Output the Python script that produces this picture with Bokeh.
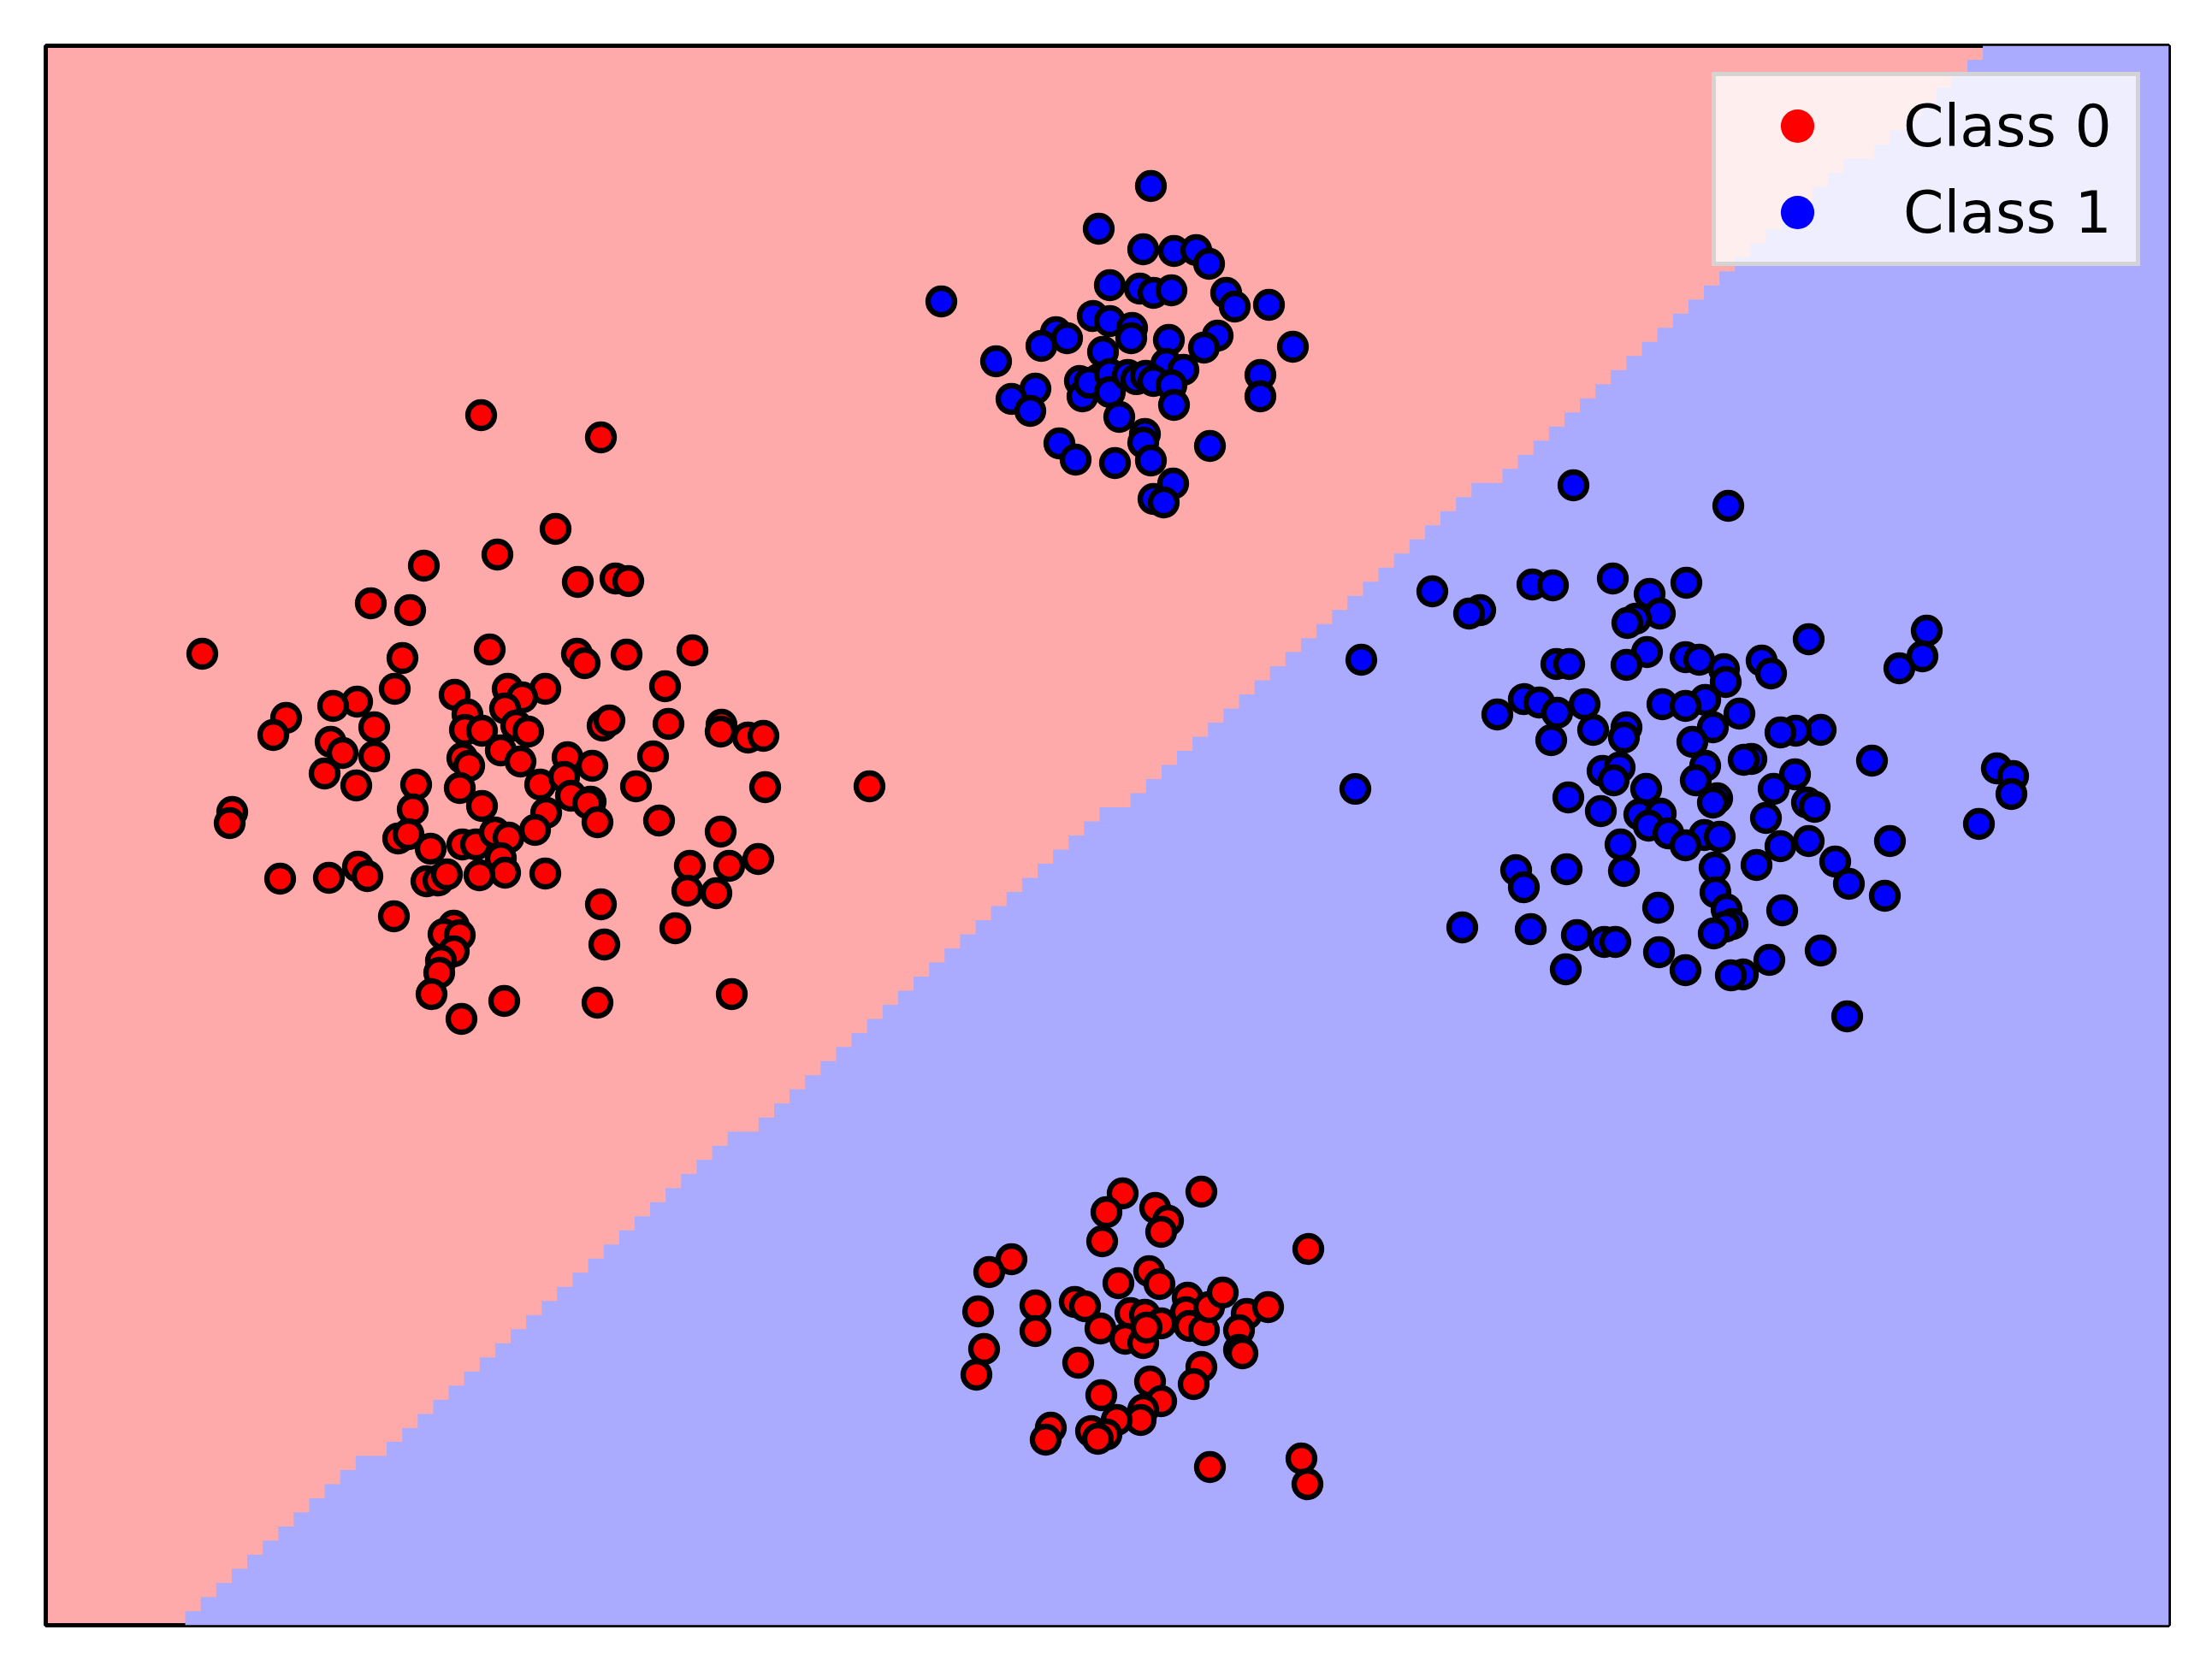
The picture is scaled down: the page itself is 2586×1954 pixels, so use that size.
import numpy as np
from bokeh.plotting import figure
from bokeh.models import Range1d, Legend, LegendItem
from bokeh.embed import file_html
from bokeh.resources import INLINE

# ---- data (in the picture's own coordinate units) ----
class0_x = [562, 702, 649, 581, 495, 719, 734, 675, 433, 479, 572, 809, 236, 674, 732, 470, 683, 461, 593, 637,
            777, 531, 610, 417, 389, 590, 334, 546,
            319, 437, 386, 400, 437, 379, 416, 271, 268, 486, 482, 465, 477, 503, 327, 384, 418, 429, 498, 512, 522,
            460, 530, 518, 537, 530, 515, 513, 504, 539, 589,
            543, 563, 603, 617, 585, 608, 540, 548, 537, 563, 631, 638, 625, 540, 556, 578, 594, 585, 590, 560, 637,
            704, 712, 781, 843, 842, 874, 892, 663, 692, 763, 659, 667, 690, 687, 743, 894, 1016, 698, 770, 842,
            806, 852, 886, 803, 837, 702, 789, 706, 698, 855,
            1312, 1404, 1293, 1350, 1365, 1357, 1288, 1529, 1182, 1156, 1307, 1343, 1355, 1143, 1210, 1210, 1256,
            1268, 1286, 1321, 1338, 1357, 1315, 1336, 1340, 1388, 1386, 1390, 1407, 1413, 1429, 1457, 1482, 1448,
            1448, 1452, 1150, 1141, 1260, 1404, 1395, 1344, 1357, 1336, 1333, 1287, 1305, 1275, 1293, 1283, 1228,
            1222, 1414, 1521, 1528]
class0_y = [485, 511, 618, 648, 661, 676, 679, 680, 705, 713, 759, 760, 764, 764, 765, 769, 775, 805, 805, 805,
            802, 812, 815, 820, 825, 828, 839, 835,
            859, 850, 867, 880, 884, 904, 918, 949, 962, 917, 946, 980, 975, 992, 1027, 1026, 1013, 1024, 1030, 1029,
            1022, 1071, 1082, 1092, 1093, 1112, 1123, 1137, 1162, 1191, 1170,
            853, 854, 848, 855, 877, 890, 886, 895, 921, 942, 917, 950, 970, 987, 987, 973, 979, 1003, 1020, 1023,
            1021,
            848, 842, 846, 847, 855, 862, 860, 885, 895, 884, 908, 930, 937, 939, 919, 920, 919, 961, 959, 972,
            1012, 1012, 1004, 1041, 1044, 1057, 1085, 1104, 1172, 1162,
            1395, 1393, 1417, 1412, 1427, 1440, 1451, 1460, 1472, 1487, 1500, 1486, 1501, 1533, 1526, 1556, 1522,
            1527, 1553, 1535, 1537, 1547, 1565, 1570, 1552, 1517, 1534, 1550, 1555, 1528, 1511, 1536, 1528, 1555,
            1578, 1582, 1577, 1607, 1593, 1598, 1618, 1615, 1638, 1648, 1660, 1631, 1660, 1673, 1677, 1682, 1669,
            1683, 1715, 1705, 1735]

class1_x = [1345, 1284, 1336, 1372, 1398, 1413, 1297, 1332, 1348, 1369, 1433, 1443, 1483, 1100, 1277, 1297, 1323,
            1322, 1423, 1407, 1366, 1511, 1234, 1247, 1217, 1289, 1164, 1363, 1383, 1473, 1473, 1210, 1182, 1204,
            1262, 1265, 1284, 1273, 1297, 1297, 1318, 1328, 1339, 1348, 1369, 1372, 1308, 1238, 1257, 1303, 1338,
            1336, 1345, 1414, 1371, 1348, 1360,
            1839, 2020, 1885, 1971, 1674, 1928, 1791, 1815, 1730, 1717, 1940, 1912, 1902, 2252, 2114, 1925, 2247,
            1970, 1591, 1986, 2059, 1819, 1834, 1901, 2220, 2015, 2070, 2017, 1781, 1993, 1799, 1852, 1943, 1970,
            1820, 2033, 1750, 1901, 2002, 1862, 2128, 2099, 2081, 1898, 1813, 1978,
            2047, 2038, 2188, 1993, 2334, 1873, 1893, 2098, 2353, 1886, 1982, 1584, 1924, 2073, 2351, 1833, 2007,
            2002, 2112, 2121, 1871, 1916, 1941, 2064, 2313, 1927, 1950, 1992, 2010, 2209, 2114, 1894, 1970, 2081,
            2145, 2053, 2004, 1831, 1772, 1898, 2161, 1781, 2005, 2203, 1938, 2018, 2083, 2025, 2017, 1709, 1789,
            2003, 1843, 1875, 1888, 2128, 1939, 2068, 1830, 1970, 2037, 2023, 2159]
class1_y = [217, 267, 291, 293, 292, 308, 333, 337, 342, 339, 342, 358, 356, 352, 369, 375, 383, 395, 392, 406,
            397, 405, 388, 395, 404, 411, 422, 425, 432, 438, 463, 454, 466, 480, 445, 463, 443, 447, 437, 458,
            438, 443, 439, 445, 450, 473, 487, 518, 537, 541, 507, 517, 538, 521, 565, 583, 587,
            567, 591, 676, 681, 691, 694, 683, 684, 713, 717, 717, 723, 728, 737, 747, 762, 767, 768, 771, 771,
            772, 776, 776, 777, 781, 782, 787, 797, 817, 818, 821, 823, 823, 825, 833, 834, 835, 850, 850, 853,
            853, 854, 856, 862, 865, 867,
            887, 888, 889, 895, 898, 901, 897, 905, 907, 912, 912, 922, 922, 922, 928, 932, 933, 938, 938, 943,
            948, 952, 951, 956, 963, 965, 974, 976, 978, 983, 983, 987, 988, 989, 1007, 1011, 1014, 1016, 1017,
            1018, 1033, 1037, 1043, 1047, 1061, 1063, 1064, 1080, 1083, 1084, 1086, 1091, 1093, 1101, 1101, 1111,
            1113, 1122, 1133, 1134, 1139, 1140, 1188]

labels = ["Class 0", "Class 1"]

# ---- axis extents and the linear decision boundary (mesh) ----
X0, X1 = 53, 2535
Y0, Y1 = 53, 1900          # y grows downward (image coordinates)
NX, NY = 137, 112
B_X, B_Y, B_SLOPE = 216.0, 1892.0, 1.146

xe = np.linspace(X0, X1, NX + 1)
ye = np.linspace(Y0, Y1, NY + 1)
xc = (xe[:-1] + xe[1:]) / 2
px, py = [], []
for j in range(NY):
    yc = (ye[j] + ye[j + 1]) / 2
    xb = B_X + B_SLOPE * (B_Y - yc)
    idx = np.nonzero(xc > xb)[0]
    left = xe[idx[0]] if len(idx) else X1
    px += [left, left]
    py += [ye[j], ye[j + 1]]
px += [X1, X1]
py += [Y1, Y0]

p = figure(width=2578, height=1946, output_backend="svg", toolbar_location=None,
           x_range=Range1d(X0, X1), y_range=Range1d(Y1, Y0),
           min_border_left=53, min_border_right=43, min_border_top=53, min_border_bottom=46)
p.xaxis.visible = False
p.yaxis.visible = False
p.xgrid.visible = False
p.ygrid.visible = False
p.background_fill_color = "#FFAAAA"
p.border_fill_color = "white"
p.outline_line_color = "black"
p.outline_line_width = 5

p.patch(px, py, fill_color="#AAAAFF", line_color=None)

p.scatter(class0_x, class0_y, size=31, fill_color="#FF0000", line_color="black", line_width=6.3)
p.scatter(class1_x, class1_y, size=31, fill_color="#0000FF", line_color="black", line_width=6.3)

# legend proxies (no edge, like the reference legend)
r0 = p.scatter([-5000], [-5000], size=10, fill_color="#FF0000", line_color=None)
r1 = p.scatter([-5000], [-5000], size=10, fill_color="#0000FF", line_color=None)
legend = Legend(items=[LegendItem(label=labels[0], renderers=[r0]),
                       LegendItem(label=labels[1], renderers=[r1])],
                location=(1948, 1589), orientation="vertical",
                glyph_width=172, glyph_height=98, spacing=3, padding=9,
                label_standoff=38, label_width=263, label_height=98,
                label_text_font="DejaVu Sans", label_text_font_size="68px",
                label_text_color="black",
                background_fill_color="white", background_fill_alpha=0.8,
                border_line_color="#cccccc", border_line_alpha=0.8, border_line_width=5,
                margin=0)
p.add_layout(legend)

open("out.html", "w").write(file_html(p, INLINE))
